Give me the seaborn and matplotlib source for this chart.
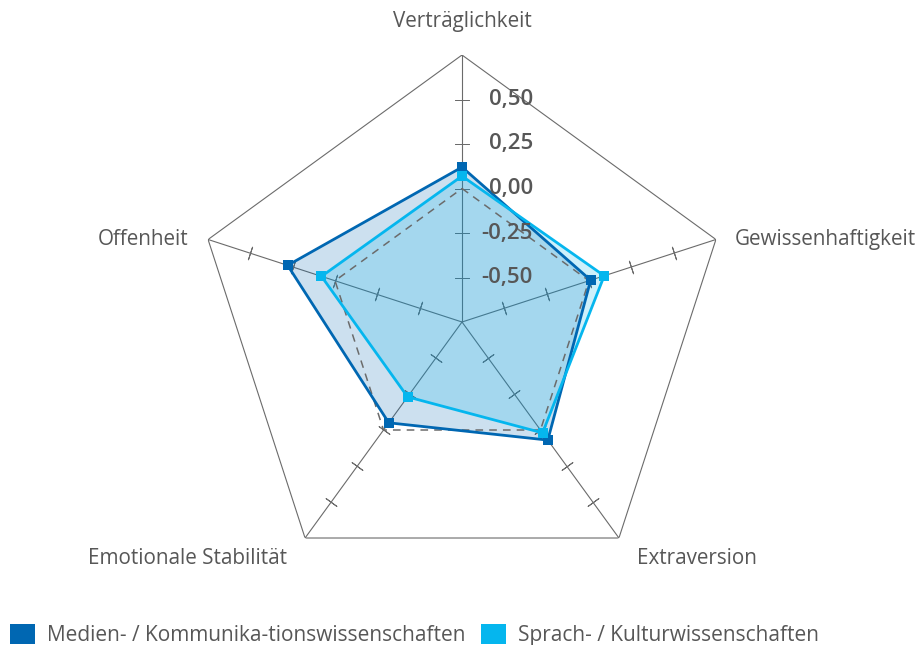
import numpy as np
import pandas as pd
import seaborn as sns
import matplotlib.pyplot as plt
from matplotlib.patches import Patch

# Data
categories = ['Verträglichkeit', 'Gewissenhaftigkeit', 'Extraversion',
              'Emotionale Stabilität', 'Offenheit']
medien = [0.12, 0.01, 0.07, -0.05, 0.28]
sprach = [0.07, 0.09, 0.02, -0.23, 0.08]
series_names = ['Medien- / Kommunika-tionswissenschaften', 'Sprach- / Kulturwissenschaften']
r_ticks = [-0.50, -0.25, 0.00, 0.25, 0.50]
r_tick_labels = ['-0,50', '-0,25', '0,00', '0,25', '0,50']

dark = '#0067b2'
light = '#05b6ee'
grid_col = '#6b6b6b'
text_col = '#575757'

sns.set_style('white')
plt.rcParams['font.family'] = ['Open Sans', 'DejaVu Sans']

n = len(categories)
theta = np.linspace(0, 2 * np.pi, n, endpoint=False)
theta_c = np.append(theta, theta[0])
rmin, rmax = -0.75, 0.75

fig = plt.figure(figsize=(9.2, 6.45), dpi=100)
ax = fig.add_axes([195 / 920, 56 / 645, 534 / 920, 534 / 645], projection='polar')
ax.set_theta_offset(np.pi / 2)
ax.set_theta_direction(-1)
ax.set_ylim(rmin, rmax)
ax.grid(False)
ax.spines['polar'].set_visible(False)
ax.set_xticks([])
ax.set_yticks([])
ax.patch.set_visible(False)

# pentagon frame, spokes and zero line
ax.plot(theta_c, [rmax] * (n + 1), color=grid_col, lw=0.8, zorder=1)
for t in theta:
    ax.plot([t, t], [rmin, rmax], color=grid_col, lw=0.8, zorder=1)
ax.plot(theta_c, [0.0] * (n + 1), color=grid_col, lw=1.1, ls=(0, (5, 4)), zorder=4)

# small tick marks across each spoke
for i, t in enumerate(theta):
    alpha = 90 - 72 * i
    ax.plot([t] * len(r_ticks), r_ticks, ls='none', marker=(2, 2, alpha),
            ms=10, mec=grid_col, mew=0.7, zorder=2)

# fills
ax.fill(theta_c, medien + medien[:1], color=dark, alpha=0.2, lw=0, zorder=2)
ax.fill(theta_c, sprach + sprach[:1], color=light, alpha=0.2, lw=0, zorder=2)

# lines with markers
df = pd.concat([
    pd.DataFrame({'theta': theta_c, 'value': medien + medien[:1], 'series': series_names[0]}),
    pd.DataFrame({'theta': theta_c, 'value': sprach + sprach[:1], 'series': series_names[1]}),
])
sns.lineplot(data=df, x='theta', y='value', hue='series', palette=[dark, light],
             sort=False, estimator=None, marker='s', markersize=7, markeredgewidth=0,
             linewidth=2, legend=False, ax=ax, zorder=5)
ax.set_xlabel('')
ax.set_ylabel('')
ax.set_ylim(rmin, rmax)

# radial tick labels
for r, lab in zip(r_ticks, r_tick_labels):
    ax.annotate(lab, xy=(0, r), xytext=(51, 0), textcoords='offset points',
                ha='right', va='center', fontsize=16, fontweight='semibold',
                color=text_col, annotation_clip=False, zorder=6)

# category labels
label_pos = [((0, 24), 'center', 'center'),
             ((13.5, 0), 'left', 'center'),
             ((13, -15), 'left', 'center'),
             ((-13, -15), 'right', 'center'),
             ((-14, 0), 'right', 'center')]
for t, cat, (off, ha, va) in zip(theta, categories, label_pos):
    ax.annotate(cat, xy=(t, rmax), xytext=off, textcoords='offset points',
                ha=ha, va=va, fontsize=14.9, color=text_col, annotation_clip=False)

handles = [Patch(facecolor=dark, edgecolor='none'), Patch(facecolor=light, edgecolor='none')]
fig.legend(handles, series_names, loc='center left', bbox_to_anchor=(-0.0075, 0.016),
           frameon=False, fontsize=15, handlelength=1.2, handleheight=1.1,
           handletextpad=0.6, columnspacing=0.72, ncol=2, labelcolor=text_col,
           borderpad=0.3)

fig.savefig('out.png', dpi=100)
